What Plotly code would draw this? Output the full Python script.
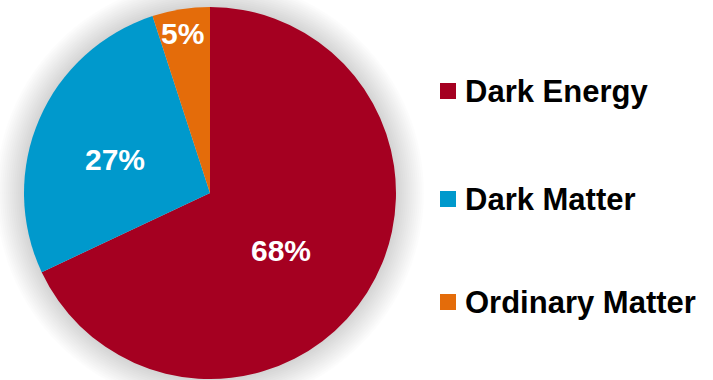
import math
import plotly.graph_objects as go

# ---- data ----
labels = ["Dark Energy", "Dark Matter", "Ordinary Matter"]
values = [68, 27, 5]
colors = ["#A50021", "#0099CC", "#E46C0A"]

# ---- style ----
W, H = 713, 380
MT, MB = 7, 1
CX, CY, R = 210, 193, 186           # pie centre / radius in pixels
label_rfrac = [0.493, 0.539, 0.873]  # radial position of % labels
label_nudge = [6.8, -3.9, -0.9]      # angular nudge (deg)
legend_y = [91, 199, 302]
FONT = "Arial, Liberation Sans, sans-serif"

plot_h = H - MT - MB

def px2paper(x, y):
    return x / W, (H - MB - y) / plot_h

fig = go.Figure()
fig.add_trace(go.Pie(
    labels=labels, values=values, sort=False, direction="clockwise",
    rotation=0, marker=dict(colors=colors, line=dict(width=0)),
    textinfo="none", hoverinfo="label+percent", showlegend=False,
    domain=dict(x=[(CX - R) / W, (CX + R) / W], y=[0, 1]),
))

shapes = []
# soft shadow / glow around the pie
cxp, cyp = px2paper(CX, CY)
for k in range(14, 0, -1):
    rr = R + k * 2
    shapes.append(dict(
        type="circle", layer="below", xref="paper", yref="paper",
        xsizemode="pixel", ysizemode="pixel", xanchor=cxp, yanchor=cyp,
        x0=-rr, x1=rr, y0=-rr, y1=rr,
        fillcolor="rgba(0,0,0,0.012)", line=dict(width=0),
    ))

annotations = []
total = sum(values)
cum = 0
for i, v in enumerate(values):
    mid = (cum + v / 2) / total * 360 + label_nudge[i]
    cum += v
    rad = math.radians(mid)
    d = label_rfrac[i] * R
    lx = CX + d * math.sin(rad)
    ly = CY - d * math.cos(rad)
    ax, ay = px2paper(lx, ly)
    pct = round(v / total * 100)
    annotations.append(dict(
        x=ax, y=ay, xref="paper", yref="paper", xanchor="center", yanchor="middle",
        text=f"<b>{pct}%</b>", showarrow=False,
        font=dict(family=FONT, size=30, color="white"),
    ))

# legend built from labels / colors
for i, (lab, col) in enumerate(zip(labels, colors)):
    mx, my = px2paper(448, legend_y[i])
    shapes.append(dict(
        type="rect", xref="paper", yref="paper",
        xsizemode="pixel", ysizemode="pixel", xanchor=mx, yanchor=my,
        x0=-8, x1=8, y0=-8, y1=8, fillcolor=col, line=dict(width=0),
    ))
    tx, ty = px2paper(463, legend_y[i])
    annotations.append(dict(
        x=tx, y=ty, xref="paper", yref="paper", xanchor="left", yanchor="middle",
        text=f"<b>{lab}</b>", showarrow=False,
        font=dict(family=FONT, size=31, color="black"),
    ))

fig.update_layout(
    width=W, height=H,
    margin=dict(l=0, r=0, t=MT, b=MB, pad=0),
    paper_bgcolor="white", plot_bgcolor="white",
    shapes=shapes, annotations=annotations, showlegend=False,
)

fig.write_html(
    "out.html",
    config={"displayModeBar": False},
    post_script="document.body.style.margin='0';document.body.style.padding='0';",
)
